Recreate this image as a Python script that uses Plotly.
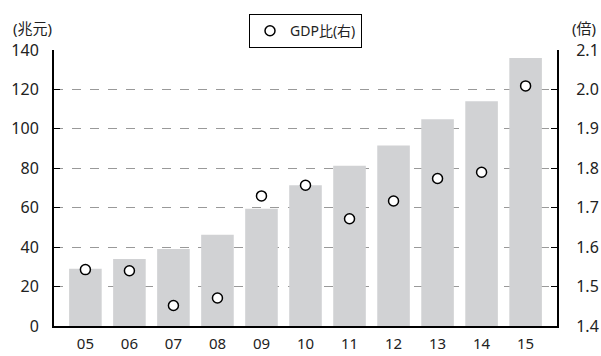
import plotly.graph_objects as go

years = ["05", "06", "07", "08", "09", "10", "11", "12", "13", "14", "15"]
debt = [29, 34, 39, 46.3, 59.5, 71.4, 81.3, 91.6, 104.9, 114, 135.9]
gdp_ratio = [1.543, 1.540, 1.452, 1.471, 1.730, 1.757, 1.672, 1.717, 1.774, 1.790, 2.009]
left_ticks = [0, 20, 40, 60, 80, 100, 120, 140]
right_ticks = [1.4, 1.5, 1.6, 1.7, 1.8, 1.9, 2.0, 2.1]

FONT = "Noto Sans, Noto Sans CJK JP, sans-serif"

fig = go.Figure()
fig.add_trace(go.Bar(
    x=years, y=debt, marker=dict(color="#d1d2d4", line=dict(width=0)),
    showlegend=False, name="兆元",
))
fig.add_trace(go.Scatter(
    x=years, y=gdp_ratio, yaxis="y2", mode="markers", name="GDP比(右)",
    marker=dict(symbol="circle", size=10, color="white",
                line=dict(color="black", width=1.5)),
))

fig.update_layout(
    width=601, height=356,
    margin=dict(l=54, r=44, t=50, b=30),
    paper_bgcolor="white", plot_bgcolor="white",
    font=dict(family=FONT, size=16, color="#222"),
    bargap=0.26,
    xaxis=dict(
        type="category", showgrid=False, ticks="", showline=True,
        linecolor="black", linewidth=2, ticklabelstandoff=3,
        tickfont=dict(size=15), automargin=False,
    ),
    yaxis=dict(
        range=[0, 140], tickvals=left_ticks, showgrid=True,
        gridcolor="#999", griddash="dash", gridwidth=1,
        showline=True, linecolor="black", linewidth=2,
        ticks="inside", ticklen=6, tickcolor="black", tickwidth=1.2,
        ticklabelstandoff=10, zeroline=False, automargin=False,
    ),
    yaxis2=dict(
        range=[1.4, 2.1], tickvals=right_ticks, tickformat=".1f",
        overlaying="y", side="right", showgrid=False,
        showline=True, linecolor="black", linewidth=2,
        ticks="inside", ticklen=6, tickcolor="black", tickwidth=1.2,
        ticklabelstandoff=14, zeroline=False, automargin=False,
    ),
    legend=dict(
        x=0.5, xanchor="center", y=1.13, yanchor="top",
        bordercolor="black", borderwidth=1, bgcolor="white",
        font=dict(size=14), itemwidth=30, tracegroupgap=0,
    ),
    annotations=[
        dict(text="(兆元)", xref="paper", yref="paper", x=-0.085, y=1.08,
             xanchor="left", yanchor="middle", showarrow=False,
             font=dict(size=15)),
        dict(text="(倍)", xref="paper", yref="paper", x=1.025, y=1.08,
             xanchor="left", yanchor="middle", showarrow=False,
             font=dict(size=15)),
    ],
)

fig.write_html("out.html")
